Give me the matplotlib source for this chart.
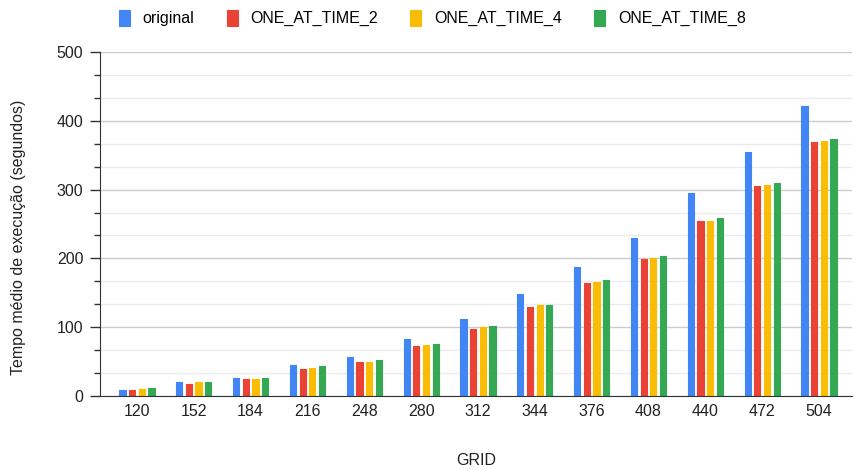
import numpy as np
import matplotlib
matplotlib.use("Agg")
import matplotlib.pyplot as plt
from matplotlib.ticker import MultipleLocator

plt.rcParams['font.family'] = ['Liberation Sans', 'DejaVu Sans']

# dados
grid = ['120', '152', '184', '216', '248', '280', '312', '344', '376', '408', '440', '472', '504']
original = [9, 20, 26, 45, 56, 83, 112, 148, 187, 229, 295, 355, 422]
one_at_time_2 = [8, 18, 24, 39, 50, 72, 98, 130, 164, 199, 254, 305, 369]
one_at_time_4 = [10, 20, 24, 41, 50, 74, 100, 132, 166, 201, 255, 307, 371]
one_at_time_8 = [12, 20, 26, 43, 52, 76, 102, 132, 168, 203, 259, 309, 373]

series = [('original', original, '#4285F4'),
          ('ONE_AT_TIME_2', one_at_time_2, '#EA4335'),
          ('ONE_AT_TIME_4', one_at_time_4, '#FBBC04'),
          ('ONE_AT_TIME_8', one_at_time_8, '#34A853')]

fig = plt.figure(figsize=(8.56, 4.70), dpi=100)
ax = fig.add_axes([100/856, 1-396/470, 752/856, 344/470])

x = np.arange(len(grid))
pitch = 0.17
width = 0.11
for i, (nome, vals, cor) in enumerate(series):
    ax.bar(x + (i - 1.5) * pitch, vals, width, color=cor, label=nome,
           edgecolor=cor, linewidth=0.8, joinstyle='round', zorder=3)

ax.set_xlim(-0.65, 12.58)
ax.set_ylim(0, 500)
ax.yaxis.set_major_locator(MultipleLocator(100))
ax.yaxis.set_minor_locator(MultipleLocator(100/3))
ax.grid(True, which='major', axis='y', color='#cccccc', linewidth=1, zorder=0)
ax.grid(True, which='minor', axis='y', color='#ebebeb', linewidth=1, zorder=0)

ax.set_xticks(x)
ax.set_xticklabels(grid)
ax.tick_params(axis='x', length=0, pad=6, labelsize=11.5, colors='#222222')
ax.tick_params(axis='y', which='major', length=7, width=1, color='#333333', labelsize=11.5, labelcolor='#222222', pad=5)
ax.tick_params(axis='y', which='minor', length=4, width=1, color='#333333')

for s in ['top', 'right']:
    ax.spines[s].set_visible(False)
ax.spines['left'].set_color('#333333')
ax.spines['bottom'].set_color('#333333')
ax.spines['bottom'].set_zorder(4)

ax.set_xlabel('GRID', fontsize=11.5, color='#222222', labelpad=24)
ax.set_ylabel('Tempo médio de execução (segundos)', fontsize=11.5, color='#222222')
ax.yaxis.set_label_coords(-0.099, 0.46)

fig.legend(loc='upper center', bbox_to_anchor=(0.505, 1.01), ncol=4, frameon=False,
           fontsize=11.5, handlelength=0.7, handleheight=1.2, columnspacing=2.0,
           handletextpad=0.8)

fig.savefig('out.png', dpi=100)
